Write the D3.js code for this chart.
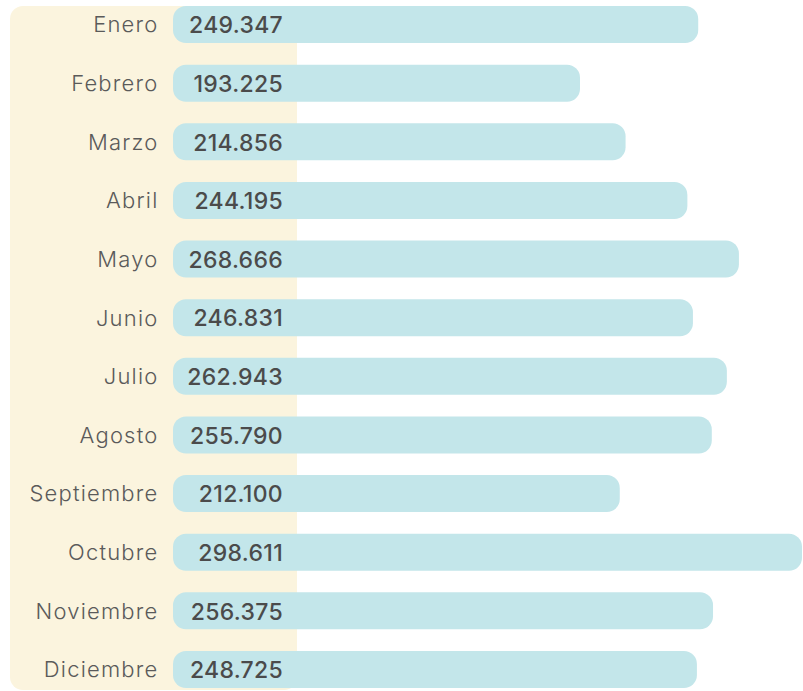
<!DOCTYPE html>
<meta charset="utf-8">
<style>
  body { margin: 0; background: #fff; }
  text { font-family: Inter, "Open Sans", sans-serif; }
</style>
<body>
<script src="https://cdn.jsdelivr.net/npm/d3@7"></script>
<script>
// data
var months = ["Enero", "Febrero", "Marzo", "Abril", "Mayo", "Junio", "Julio",
  "Agosto", "Septiembre", "Octubre", "Noviembre", "Diciembre"];
var values = [249347, 193225, 214856, 244195, 268666, 246831, 262943,
  255790, 212100, 298611, 256375, 248725];
var valueLabels = ["249.347", "193.225", "214.856", "244.195", "268.666", "246.831",
  "262.943", "255.790", "212.100", "298.611", "256.375", "248.725"];

var width = 803, height = 691;

var svg = d3.select("body").append("svg")
  .attr("width", width)
  .attr("height", height);

// beige panel behind labels
svg.append("rect")
  .attr("x", 10).attr("y", 6)
  .attr("width", 287).attr("height", 684)
  .attr("rx", 13)
  .attr("fill", "#fbf4de");

var x = d3.scaleLinear()
  .domain([0, d3.max(values)])
  .range([173, 802]);

var y = d3.scaleBand()
  .domain(months)
  .range([6, 688])
  .paddingInner(0.368)
  .paddingOuter(0);

// bars
svg.selectAll(".bar")
  .data(months)
  .enter().append("rect")
    .attr("class", "bar")
    .attr("x", x(0))
    .attr("y", function(d) { return y(d); })
    .attr("width", function(d, i) { return x(values[i]) - x(0); })
    .attr("height", y.bandwidth())
    .attr("rx", 13)
    .attr("fill", "#c3e6ea");

// value labels
svg.selectAll(".val")
  .data(months)
  .enter().append("text")
    .attr("class", "val")
    .attr("x", 283)
    .attr("y", function(d) { return y(d) + y.bandwidth() / 2; })
    .attr("dy", "0.38em")
    .attr("text-anchor", "end")
    .style("font-size", "23px")
    .style("font-weight", 500)
    .style("letter-spacing", "0.3px")
    .style("fill", "#4b4b4b")
    .text(function(d, i) { return valueLabels[i]; });

// month labels
svg.selectAll(".cat")
  .data(months)
  .enter().append("text")
    .attr("class", "cat")
    .attr("x", 158.5)
    .attr("y", function(d) { return y(d) + y.bandwidth() / 2; })
    .attr("dy", "0.36em")
    .attr("text-anchor", "end")
    .style("font-size", "22px")
    .style("font-weight", 300)
    .style("letter-spacing", "1.2px")
    .style("fill", "#5a5a5a")
    .text(function(d) { return d; });
</script>
</body>
